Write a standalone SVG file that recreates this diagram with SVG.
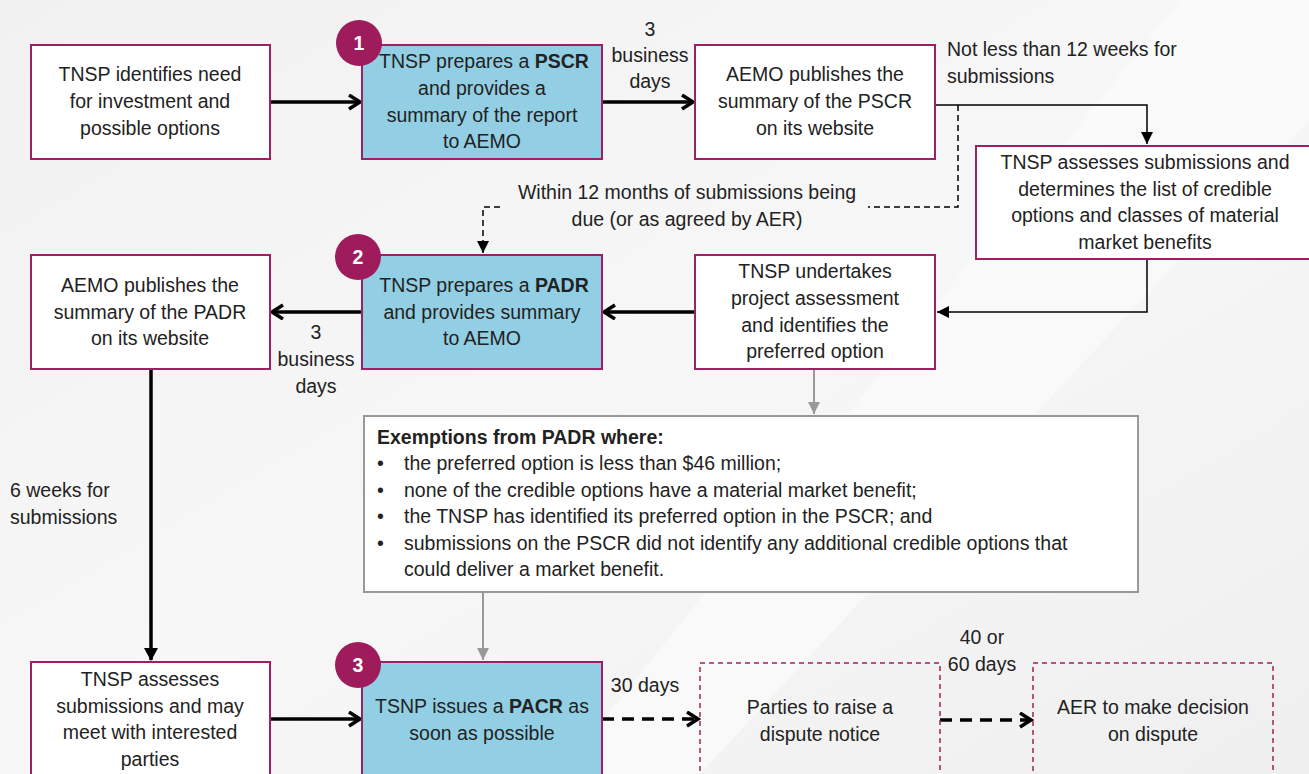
<svg xmlns="http://www.w3.org/2000/svg" width="1309" height="774" viewBox="0 0 1309 774">
<style>
text{font-family:"Liberation Sans",Arial,sans-serif;font-size:19.5px;fill:#222}
.c{text-anchor:middle}
.box{fill:#fff;stroke:#9e1f63;stroke-width:2}
.blue{fill:#92cfe4;stroke:#9e1f63;stroke-width:2}
.dbox{fill:none;stroke:#9e1f63;stroke-width:1.5;stroke-dasharray:5,4}
.num{fill:#9e1b5c}
.nt{fill:#fff;font-weight:bold;text-anchor:middle}
.thick{stroke:#000;stroke-width:3.5;fill:none}
.thin{stroke:#000;stroke-width:1.5;fill:none}
.grey{stroke:#999;stroke-width:2;fill:none}
.b{font-weight:bold}
</style>
<defs>
<linearGradient id="bg" x1="0" y1="0" x2="1" y2="1">
<stop offset="0" stop-color="#f1f1f1"/>
<stop offset="0.5" stop-color="#f7f7f7"/>
<stop offset="1" stop-color="#efefef"/>
</linearGradient>
<marker id="ah" markerUnits="userSpaceOnUse" markerWidth="20" markerHeight="20" refX="14" refY="8" orient="auto">
<path d="M3,1 L14,8 L3,15" fill="none" stroke="#000" stroke-width="3.5"/>
</marker>
<marker id="at" markerUnits="userSpaceOnUse" markerWidth="14" markerHeight="14" refX="12" refY="6" orient="auto">
<path d="M0,0 L12,6 L0,12 Z" fill="#000"/>
</marker>
<marker id="ag" markerUnits="userSpaceOnUse" markerWidth="14" markerHeight="14" refX="12" refY="6" orient="auto">
<path d="M0,0 L12,6 L0,12 Z" fill="#999"/>
</marker>
</defs>
<rect width="1309" height="774" fill="url(#bg)"/>
<polygon points="1309,0 1309,120 700,774 560,774 1180,0" fill="#fafafa" opacity="0.8"/>

<g id="connectors">
<line class="thick" x1="270" y1="102" x2="360" y2="102" marker-end="url(#ah)"/>
<line class="thick" x1="602" y1="102" x2="693" y2="102" marker-end="url(#ah)"/>
<polyline class="thin" points="935,105 1147,105 1147,144" marker-end="url(#at)"/>
<polyline class="thin" points="1147,259 1147,312 937,312" marker-end="url(#at)"/>
<line class="thick" x1="695" y1="312" x2="604" y2="312" marker-end="url(#ah)"/>
<line class="thick" x1="362" y1="312" x2="272" y2="312" marker-end="url(#ah)"/>
<polyline class="thin" points="958,105 958,207 868,207" stroke-dasharray="6,4"/>
<polyline class="thin" points="500,207 483,207 483,253" stroke-dasharray="6,4" marker-end="url(#at)"/>
<line class="thick" x1="151" y1="369" x2="151" y2="660" stroke-width="3"/>
<path d="M144,648 L151,661 L158,648 Z" fill="#000"/>
<line class="grey" x1="814" y1="369" x2="814" y2="414" marker-end="url(#ag)"/>
<line class="grey" x1="483" y1="592" x2="483" y2="660" marker-end="url(#ag)"/>
<line class="thick" x1="270" y1="719" x2="360" y2="719" marker-end="url(#ah)"/>
<line class="thick" x1="602" y1="719" x2="698" y2="719" stroke-dasharray="12,8" marker-end="url(#ah)"/>
<line class="thick" x1="940" y1="720" x2="1031" y2="720" stroke-dasharray="12,8" marker-end="url(#ah)"/>
<text class="c" x="650" y="36">3</text>
<text class="c" x="650" y="62">business</text>
<text class="c" x="650" y="88">days</text>
<text x="947" y="56">Not less than 12 weeks for</text>
<text x="947" y="83">submissions</text>
<text class="c" x="687" y="199">Within 12 months of submissions being</text>
<text class="c" x="687" y="226">due (or as agreed by AER)</text>
<text class="c" x="316" y="339">3</text>
<text class="c" x="316" y="366">business</text>
<text class="c" x="316" y="393">days</text>
<text x="10" y="497">6 weeks for</text>
<text x="10" y="524">submissions</text>
<text class="c" x="645" y="692">30 days</text>
<text class="c" x="982" y="644">40 or</text>
<text class="c" x="982" y="671">60 days</text>
</g>

<g id="n-identify">
<rect class="box" x="31" y="45" width="239" height="114"/>
<text class="c" x="150" y="81">TNSP identifies need</text>
<text class="c" x="150" y="108">for investment and</text>
<text class="c" x="150" y="135">possible options</text>
</g>
<g id="n-pscr">
<rect class="blue" x="362" y="45" width="240" height="114"/>
<text class="c" x="484" y="68">TNSP prepares a <tspan class="b">PSCR</tspan></text>
<text class="c" x="482" y="95">and provides a</text>
<text class="c" x="482" y="122">summary of the report</text>
<text class="c" x="482" y="148">to AEMO</text>
<circle class="num" cx="359" cy="43" r="23"/>
<text class="nt" x="359" y="50">1</text>
</g>
<g id="n-aemo-pscr">
<rect class="box" x="695" y="45" width="240" height="114"/>
<text class="c" x="815" y="81">AEMO publishes the</text>
<text class="c" x="815" y="108">summary of the PSCR</text>
<text class="c" x="815" y="135">on its website</text>
</g>
<g id="n-assess-sub">
<rect class="box" x="976" y="146" width="340" height="113"/>
<text class="c" x="1145" y="169">TNSP assesses submissions and</text>
<text class="c" x="1145" y="196">determines the list of credible</text>
<text class="c" x="1145" y="222">options and classes of material</text>
<text class="c" x="1145" y="249">market benefits</text>
</g>
<g id="n-undertakes">
<rect class="box" x="695" y="255" width="240" height="114"/>
<text class="c" x="815" y="278">TNSP undertakes</text>
<text class="c" x="815" y="305">project assessment</text>
<text class="c" x="815" y="332">and identifies the</text>
<text class="c" x="815" y="358">preferred option</text>
</g>
<g id="n-padr">
<rect class="blue" x="362" y="255" width="240" height="114"/>
<text class="c" x="484" y="292">TNSP prepares a <tspan class="b">PADR</tspan></text>
<text class="c" x="482" y="319">and provides summary</text>
<text class="c" x="482" y="345">to AEMO</text>
<circle class="num" cx="358" cy="257" r="23"/>
<text class="nt" x="358" y="264">2</text>
</g>
<g id="n-aemo-padr">
<rect class="box" x="31" y="255" width="239" height="114"/>
<text class="c" x="150" y="292">AEMO publishes the</text>
<text class="c" x="150" y="319">summary of the PADR</text>
<text class="c" x="150" y="345">on its website</text>
</g>
<g id="n-exemptions">
<rect x="364" y="416" width="774" height="176" fill="#fff" stroke="#999" stroke-width="2"/>
<text class="b" x="377" y="444">Exemptions from PADR where:</text>
<text x="377" y="470">•</text><text x="404" y="470">the preferred option is less than $46 million;</text>
<text x="377" y="497">•</text><text x="404" y="497">none of the credible options have a material market benefit;</text>
<text x="377" y="523">•</text><text x="404" y="523">the TNSP has identified its preferred option in the PSCR; and</text>
<text x="377" y="550">•</text><text x="404" y="550">submissions on the PSCR did not identify any additional credible options that</text>
<text x="404" y="576">could deliver a market benefit.</text>
</g>
<g id="n-assess-may">
<rect class="box" x="31" y="662" width="239" height="120"/>
<text class="c" x="150" y="686">TNSP assesses</text>
<text class="c" x="150" y="713">submissions and may</text>
<text class="c" x="150" y="739">meet with interested</text>
<text class="c" x="150" y="766">parties</text>
</g>
<g id="n-pacr">
<rect class="blue" x="362" y="662" width="240" height="120"/>
<text class="c" x="482" y="713">TSNP issues a <tspan class="b">PACR</tspan> as</text>
<text class="c" x="482" y="740">soon as possible</text>
<circle class="num" cx="358" cy="665" r="23"/>
<text class="nt" x="358" y="672">3</text>
</g>
<g id="n-dispute">
<rect class="dbox" x="700" y="663" width="240" height="120"/>
<text class="c" x="820" y="714">Parties to raise a</text>
<text class="c" x="820" y="741">dispute notice</text>
</g>
<g id="n-aer">
<rect class="dbox" x="1033" y="663" width="240" height="120"/>
<text class="c" x="1153" y="714">AER to make decision</text>
<text class="c" x="1153" y="741">on dispute</text>
</g>
</svg>
